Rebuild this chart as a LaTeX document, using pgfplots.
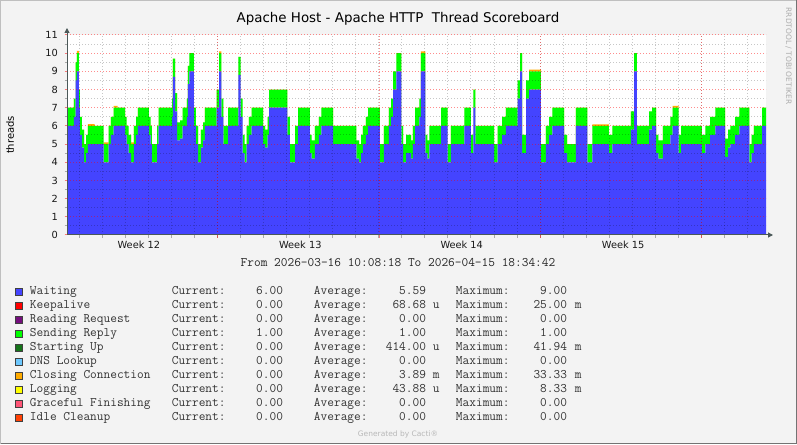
\documentclass[border=0pt]{standalone}
\usepackage{fontspec}
\setmainfont{DejaVu Sans}
\usepackage{pgfplots}
\pgfplotsset{compat=1.18}
\usepackage{pgfplotstable}
\usetikzlibrary{arrows.meta}

\definecolor{cwait}{HTML}{4444FF}
\definecolor{ckeep}{HTML}{FF0000}
\definecolor{cread}{HTML}{750F7D}
\definecolor{csend}{HTML}{00FF00}
\definecolor{cstart}{HTML}{157419}
\definecolor{cdns}{HTML}{6DC8FE}
\definecolor{cclose}{HTML}{FFAB00}
\definecolor{clog}{HTML}{FFFF00}
\definecolor{cgrace}{HTML}{FF5576}
\definecolor{cidle}{HTML}{FF4105}
\definecolor{rrdbg}{HTML}{F3F3F3}
\definecolor{rrdaxis}{HTML}{4A5858}

% days since 2026-03-16 10:08:18; w = waiting, s = sending reply, c = closing connection
\pgfplotstableread{
d w s c
0.00 5.5 1 0
0.04 6 1 0
0.30 6.5 1 0
0.37 8.5 1 0
0.43 9 1 0.12
0.52 7 1 0
0.56 5.5 1 0
0.65 4.8 1 0
0.74 4 1 0
0.83 4.5 1 0
0.91 5 1 0.1
1.20 5 1 0
1.59 4 1 0.1
1.81 5 1 0
1.91 5.5 1 0
2.02 6 1 0.1
2.20 6 1 0
2.52 5.5 1 0
2.59 5 1 0
2.68 4.5 1 0
2.78 4 1 0.1
2.90 5 1 0
3.00 5.5 1 0
3.08 6 1 0
3.55 5.5 1 0
3.63 5 1 0
3.69 4 1 0
3.91 5 1 0
3.98 6 1 0
4.56 6.5 1 0
4.60 8.7 1 0
4.69 6.8 1 0
4.78 5.2 1 0
4.91 5.3 1 0
5.02 6 1 0
5.20 6.5 1 0
5.25 8.3 1 0
5.31 9 1 0
5.51 6 1 0
5.60 5 1 0
5.69 4 1 0
5.81 4.8 1 0
5.91 5.2 1 0
5.99 6 1 0
6.50 7 1 0
6.61 9 1 0.1
6.70 6.5 1 0
6.79 5 1 0
7.00 6 1 0
7.44 8.8 1 0
7.54 6.5 1 0
7.63 4.5 1 0
7.71 4 1 0
7.80 5 1 0
7.90 5.5 1 0
8.02 6 1 0
8.52 5 1 0
8.60 4.8 1 0
8.71 5.5 1 0
8.78 7 1 0
9.57 5.5 1 0
9.68 4 1 0
9.90 5 1 0
10.03 6 1 0
10.54 4.5 1 0
10.62 4.2 1 0
10.76 5 1 0
10.94 5.5 1 0
11.04 6 1 0
11.55 5 1 0
12.56 4.2 1 0
12.68 4 1 0
12.77 4.5 1 0
12.85 5 1 0
12.98 5.5 1 0
13.07 6 1 0
13.58 4 1 0
13.76 5 1 0
13.97 6 1 0
14.07 6.5 1 0
14.16 8 1 0
14.30 9 1 0
14.52 5 1 0
14.59 4 1 0
14.72 4.5 1 0
14.94 4.2 1 0
15.02 5 1 0
15.11 6 1 0
15.30 6.5 1 0
15.37 9 1 0.1
15.56 4.5 1 0
15.65 4.2 1 0
15.73 5 1 0
16.24 6 1 0
16.53 4 1 0
16.67 5 1 0
17.25 6 1 0
17.54 4.5 1 0
17.64 7 1 0
17.73 5 1 0
18.55 4 1 0
18.70 5 1 0
18.89 5.5 1 0
19.06 6 1 0
19.57 7.5 1 0
19.67 9 1 0
19.76 4.5 1 0
19.93 7.5 1 0
20.07 8 1 0.1
20.57 4 1 0
20.79 5 1 0
20.93 5.5 1 0
21.07 6 1 0
21.58 4.5 1 0
21.72 4 1 0
22.09 6 1 0
22.59 4 1 0
22.81 5 1 0.08
23.53 4.5 1 0
23.68 5 1 0
24.48 5.8 1 0
24.62 9 1 0
24.74 5 1 0
25.27 5.8 1 0
25.40 6 1 0
25.58 4.5 1 0
25.68 4.2 1 0
25.87 5 1 0
26.20 5.5 1 0
26.30 6 1 0.1
26.56 4.5 1 0
26.66 5 1 0
27.57 4.5 1 0
27.72 5 1 0
27.92 5.5 1 0
28.15 6 1 0
28.58 4.3 1 0
28.70 4.8 1 0
28.80 5 1 0
29.01 5.5 1 0
29.19 6 1 0
29.63 4 1 0
29.72 4.5 1 0
29.82 5 1 0
30.18 6 1 0
30.35 6 1 0
}\scoreboard

% legend line: name, current, average, unit, maximum, unit
\newcommand\lrow[6]{\makebox[142pt][l]{#1}\makebox[111pt]{Current:\hfill#2}\hspace{31pt}%
\makebox[112pt]{Average:\hfill#3}\makebox[30pt][l]{\hspace{7pt}#4}%
\makebox[111pt]{Maximum:\hfill#5}\makebox[20pt][l]{\hspace{8pt}#6}}

\pgfplotsset{rrdbox/.style={legend image code/.code={%
  \draw[line width=1pt, draw=black!75, fill=#1] (0.5pt,-3.05pt) rectangle (8pt,4.45pt);}}}

\begin{document}
\begin{tikzpicture}
\useasboundingbox (0,0) rectangle (797pt,444pt);
\fill[rrdbg] (0,0) rectangle (797pt,444pt);
\draw[black!25, line width=1pt] (0.5pt,0pt) -- (0.5pt,443.5pt) -- (797pt,443.5pt);
\draw[black!55, line width=1pt] (0.5pt,0.5pt) -- (796.5pt,0.5pt) -- (796.5pt,444pt);

\begin{axis}[
  at={(67pt,209pt)}, anchor=south west,
  width=699pt, height=200pt, scale only axis,
  xmin=0, xmax=30.35, ymin=0, ymax=11,
  axis background/.style={fill=white},
  axis on top,
  axis lines=left,
  axis line style={draw=rrdaxis, line width=1pt, -{Triangle[length=5pt,width=5pt]}, shorten >=-7pt},
  stack plots=y,
  ytick={0,1,...,11},
  minor y tick num=1,
  xtick={6.54,13.55,20.56,27.57},
  xticklabels={Week 12,Week 13,Week 14,Week 15},
  minor xtick={0.54,1.54,...,29.54},
  grid=both,
  major grid style={draw=red, draw opacity=0.45, line width=1pt, dash pattern=on 1pt off 2pt},
  minor grid style={draw=black, draw opacity=0.22, line width=1pt, dash pattern=on 1pt off 2pt},
  tick align=outside,
  major tick length=2.5pt, minor tick length=2.5pt,
  major tick style={draw=red, draw opacity=0.5, line width=1pt},
  minor tick style={draw=black, draw opacity=0.3, line width=1pt},
  /pgf/number format/assume math mode=true,
  ticklabel style={font=\fontsize{9.8}{11}\selectfont, text=black!90},
  yticklabel style={inner sep=0pt, xshift=-6.5pt},
  xticklabel style={anchor=base, inner sep=0pt, xshift=-78.8pt, yshift=-11pt},
  title={Apache Host - Apache HTTP\ \ Thread Scoreboard},
  title style={font=\fontsize{13.4}{16}\selectfont, at={(axis description cs:0.4735,1.0335)}, anchor=base, inner sep=0pt},
  ylabel={threads},
  every axis y label/.style={at={(axis description cs:-0.0815,0.5)}, rotate=90, anchor=center, inner sep=0pt, font=\fontsize{10}{12}\selectfont},
  legend cell align=left,
  legend style={at={(axis description cs:-0.0744,-0.2525)}, anchor=north west,
    draw=none, fill=none, inner sep=0pt, outer sep=0pt, row sep=0pt, column sep=6.5pt,
    font=\fontsize{13}{14}\selectfont\ttfamily,
    nodes={inner sep=0pt, text height=9pt, text depth=5pt, text=black!80}},
]
\addplot[forget plot, const plot, fill=cwait, draw=none] table[x=d, y=w] {\scoreboard} \closedcycle;
\addplot[forget plot, const plot, fill=csend, draw=none] table[x=d, y=s] {\scoreboard} \closedcycle;
\addplot[forget plot, const plot, fill=cclose, draw=none] table[x=d, y=c] {\scoreboard} \closedcycle;

\addlegendimage{rrdbox=cwait}
\addlegendentry{\lrow{Waiting}{6.00}{5.59}{}{9.00}{}}
\addlegendimage{rrdbox=ckeep}
\addlegendentry{\lrow{Keepalive}{0.00}{68.68}{u}{25.00}{m}}
\addlegendimage{rrdbox=cread}
\addlegendentry{\lrow{Reading Request}{0.00}{0.00}{}{0.00}{}}
\addlegendimage{rrdbox=csend}
\addlegendentry{\lrow{Sending Reply}{1.00}{1.00}{}{1.00}{}}
\addlegendimage{rrdbox=cstart}
\addlegendentry{\lrow{Starting Up}{0.00}{414.00}{u}{41.94}{m}}
\addlegendimage{rrdbox=cdns}
\addlegendentry{\lrow{DNS Lookup}{0.00}{0.00}{}{0.00}{}}
\addlegendimage{rrdbox=cclose}
\addlegendentry{\lrow{Closing Connection}{0.00}{3.89}{m}{33.33}{m}}
\addlegendimage{rrdbox=clog}
\addlegendentry{\lrow{Logging}{0.00}{43.88}{u}{8.33}{m}}
\addlegendimage{rrdbox=cgrace}
\addlegendentry{\lrow{Graceful Finishing}{0.00}{0.00}{}{0.00}{}}
\addlegendimage{rrdbox=cidle}
\addlegendentry{\lrow{Idle Cleanup}{0.00}{0.00}{}{0.00}{}}
\end{axis}

\node[anchor=base, inner sep=0pt, text=black!85, font=\fontsize{13}{14}\selectfont\ttfamily]
  at (398pt,177.7pt) {From 2026-03-16 10:08:18 To 2026-04-15 18:34:42};
\node[anchor=base, inner sep=0pt, text=black!28, font=\fontsize{7.5}{9}\selectfont]
  at (398pt,8pt) {Generated by Cacti®};
\node[rotate=-90, inner sep=0pt, text=black!32, font=\fontsize{7.5}{9}\selectfont]
  at (788.5pt,388pt) {RRDTOOL / TOBI OETIKER};
\end{tikzpicture}
\end{document}
